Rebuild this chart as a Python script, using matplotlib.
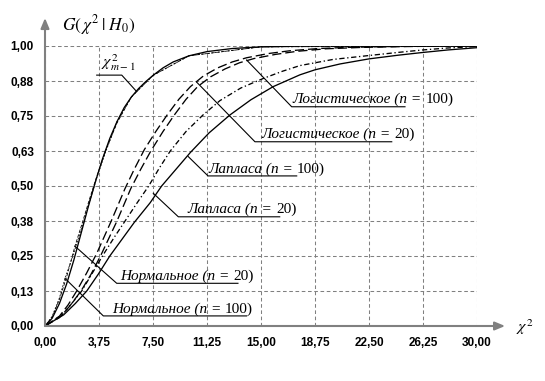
import matplotlib
matplotlib.use('Agg')
import matplotlib.pyplot as plt

# ---------------- data ----------------
x_ticks = [0, 3.75, 7.5, 11.25, 15, 18.75, 22.5, 26.25, 30]
x_tick_labels = ['0,00', '3,75', '7,50', '11,25', '15,00', '18,75', '22,50', '26,25', '30,00']
y_ticks = [0, 0.125, 0.25, 0.375, 0.5, 0.625, 0.75, 0.875, 1.0]
y_tick_labels = ['0,00', '0,13', '0,25', '0,38', '0,50', '0,63', '0,75', '0,88', '1,00']

chi2_x = [0, 0.5, 1.0, 1.5, 2.0, 2.5, 3.0, 3.5, 4.0, 4.5, 5.0, 5.5, 6.0, 6.5, 7.0, 7.5, 8.2, 8.9, 10.0, 11.25, 13.0, 15.0, 18.0, 30.0]
chi2_y = [0, 0.028, 0.08, 0.15, 0.235, 0.33, 0.425, 0.515, 0.598, 0.67, 0.73, 0.78, 0.818, 0.848, 0.873, 0.895, 0.922, 0.943, 0.965, 0.98, 0.991, 0.997, 1.0, 1.0]

norm20_x = [0, 0.5, 1.0, 1.5, 2.08, 2.6, 3.1, 3.6, 4.2, 5.0, 6.0, 7.5, 10.0, 15.0, 30.0]
norm20_y = [0, 0.032, 0.095, 0.175, 0.285, 0.37, 0.455, 0.535, 0.625, 0.725, 0.818, 0.895, 0.965, 0.997, 1.0]
norm100_x = [0, 0.5, 1.0, 1.39, 2.0, 2.6, 3.1, 3.6, 4.2, 5.0, 6.0, 7.5, 10.0, 15.0, 30.0]
norm100_y = [0, 0.035, 0.1, 0.17, 0.26, 0.36, 0.445, 0.53, 0.62, 0.73, 0.818, 0.895, 0.965, 0.997, 1.0]

logist100_x = [0, 1.0, 1.6, 2.2, 2.9, 3.6, 4.6, 5.55, 6.2, 6.9, 7.7, 8.5, 9.3, 10.1, 11.0, 12.0, 13.0, 14.0, 15.5, 17.0, 19.0, 21.0, 24.0, 27.0, 30.0]
logist100_y = [0, 0.035, 0.075, 0.125, 0.19, 0.26, 0.375, 0.49, 0.56, 0.63, 0.695, 0.755, 0.81, 0.855, 0.893, 0.922, 0.943, 0.958, 0.973, 0.983, 0.991, 0.995, 0.998, 1.0, 1.0]
logist20_x = [0, 1.0, 1.7, 2.5, 3.2, 3.9, 5.0, 5.95, 6.65, 7.35, 8.2, 9.0, 9.8, 10.6, 11.5, 12.5, 13.5, 14.5, 16.0, 17.5, 19.5, 22.0, 25.0, 28.0, 30.0]
logist20_y = [0, 0.03, 0.07, 0.125, 0.185, 0.255, 0.375, 0.49, 0.56, 0.625, 0.695, 0.755, 0.81, 0.855, 0.89, 0.918, 0.94, 0.955, 0.97, 0.981, 0.99, 0.995, 0.998, 1.0, 1.0]

laplace100_x = [0, 1.2, 1.85, 2.55, 3.3, 4.05, 4.85, 5.6, 6.4, 7.2, 7.95, 8.7, 9.8, 11.0, 12.15, 13.6, 15.2, 16.5, 17.7, 20.0, 22.5, 24.5, 26.25, 28.0, 30.0]
laplace100_y = [0, 0.04, 0.08, 0.125, 0.19, 0.255, 0.32, 0.378, 0.44, 0.5, 0.565, 0.625, 0.695, 0.755, 0.805, 0.85, 0.885, 0.91, 0.93, 0.952, 0.966, 0.977, 0.986, 0.993, 0.998]
laplace20_x = [0, 1.3, 2.1, 2.9, 3.7, 4.5, 5.35, 6.2, 7.3, 8.1, 9.1, 10.1, 11.4, 12.85, 14.3, 15.85, 17.7, 18.75, 20.5, 22.5, 24.5, 26.25, 28.0, 30.0]
laplace20_y = [0, 0.04, 0.08, 0.125, 0.185, 0.25, 0.31, 0.37, 0.44, 0.5, 0.56, 0.62, 0.69, 0.754, 0.808, 0.855, 0.897, 0.915, 0.936, 0.954, 0.967, 0.977, 0.986, 0.994]

# ---------------- figure ----------------
plt.rcParams['mathtext.fontset'] = 'stix'
W, H = 545, 381
fig = plt.figure(figsize=(W / 100, H / 100), dpi=100)
X0, X1, Y0, Y1 = 45, 477, 326, 46
ax = fig.add_axes([X0 / W, 1 - Y0 / H, (X1 - X0) / W, (Y0 - Y1) / H])
ax.set_xlim(0, 30)
ax.set_ylim(0, 1)
for s in ax.spines.values():
    s.set_visible(False)

GRAY = '#808080'
ax.set_xticks(x_ticks)
ax.set_xticklabels(x_tick_labels)
ax.set_yticks(y_ticks)
ax.set_yticklabels(y_tick_labels)
ax.tick_params(length=0, pad=8)
for lab in ax.get_xticklabels() + ax.get_yticklabels():
    lab.set_fontfamily('Liberation Sans')
    lab.set_fontweight('bold')
    lab.set_fontsize(8.5)
ax.grid(True, color=GRAY, linestyle=(0, (3.5, 2.5)), linewidth=0.75)
ax.set_axisbelow(True)

# axes with arrows
arrow = dict(arrowstyle='-|>,head_length=0.6,head_width=0.25', color=GRAY, lw=1.5, shrinkA=0, shrinkB=0)
ax.annotate('', xy=(0, 1.1), xytext=(0, 0), annotation_clip=False, arrowprops=arrow)
ax.annotate('', xy=(31.95, 0), xytext=(0, 0), annotation_clip=False, arrowprops=arrow)

# curves
lw = 0.95
ax.plot(chi2_x, chi2_y, color='k', lw=lw)
ax.plot(norm20_x, norm20_y, color='k', lw=0.6, linestyle=(0, (4, 2)))
ax.plot(norm100_x, norm100_y, color='k', lw=0.6, linestyle=(0, (2, 2)))
ax.plot(logist100_x, logist100_y, color='k', lw=lw, linestyle=(0, (7, 3)))
ax.plot(logist20_x, logist20_y, color='k', lw=lw, linestyle=(0, (7, 3)))
ax.plot(laplace100_x, laplace100_y, color='k', lw=lw, linestyle=(0, (4, 2, 1, 2)))
ax.plot(laplace20_x, laplace20_y, color='k', lw=lw)

# labels with leaders
FS = 11
def leader(p_curve, p_bend, x_end):
    ax.plot([p_curve[0], p_bend[0], x_end], [p_curve[1], p_bend[1], p_bend[1]],
            color='k', lw=0.8, clip_on=False)

def label(x, y, italic_part, num_part):
    t = ax.text(x, y, italic_part, fontfamily='Liberation Serif', fontstyle='italic',
                fontsize=FS, va='baseline', ha='left')
    ax.annotate(num_part, xy=(1, 0), xycoords=t, va='bottom', ha='left',
                fontfamily='Liberation Serif', fontsize=FS)

dy = 3.5 / 280
leader((14.0, 0.95), (17.13, 0.783), 25.0)
label(17.2, 0.783 + dy, 'Логистическое (n = ', '100)')
leader((10.53, 0.871), (14.58, 0.658), 24.08)
label(15.05, 0.658 + dy, 'Логистическое (n = ', '20)')
leader((9.95, 0.605), (11.32, 0.536), 17.48)
label(11.32, 0.536 + dy, 'Лапласа (n = ', '100)')
leader((7.52, 0.474), (9.26, 0.39), 16.3)
label(9.88, 0.39 + dy, 'Лапласа (n = ', '20)')
leader((2.08, 0.285), (4.98, 0.1525), 13.4)
label(5.2, 0.1525 + dy, 'Нормальное (n = ', '20)')
leader((1.39, 0.17), (4.05, 0.036), 14.0)
label(4.63, 0.036 + dy, 'Нормальное (n = ', '100)')

ax.plot([3.59, 5.33, 6.37], [0.896, 0.896, 0.837], color='k', lw=0.8)
ax.text(5.1, 0.925, r'$\chi^2_{m-1}$', fontsize=11.5, ha='center', va='baseline')

fig.text(62 / W, 1 - 25 / H, r'$G(\,\chi^2\;|\;H_0)$', fontsize=12.5, ha='left', va='center')
fig.text(516 / W, 1 - 327 / H, r'$\chi^2$', fontsize=11.5, ha='left', va='center')

fig.savefig('out.png', dpi=100)
